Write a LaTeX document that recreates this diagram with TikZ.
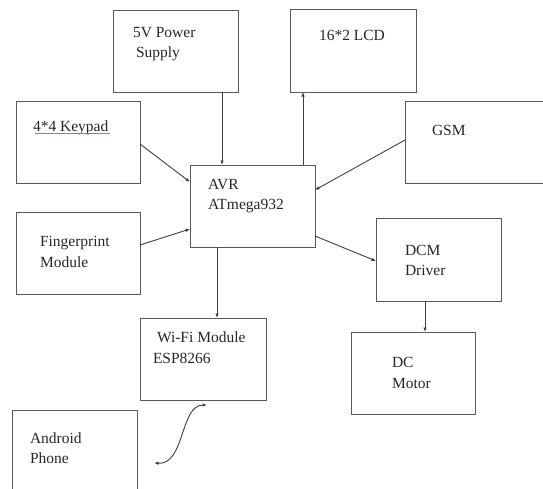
\documentclass[tikz,border=0pt]{standalone}
\usepackage{fontspec}
\setmainfont{Liberation Serif}
\usetikzlibrary{arrows.meta,calc}
\begin{document}
\begin{tikzpicture}[x=1pt,y=-1pt,
  blk/.style={draw=black!65,line width=1pt,inner sep=0pt,outer sep=0pt,anchor=north west},
  lbl/.style={anchor=base west,inner sep=0pt,outer sep=0pt,text=black!85,font=\rmfamily\fontsize{15.5}{18}\selectfont},
  arr/.style={draw=black!75,line width=0.9pt,-{Latex[length=4.5pt,width=3.5pt]}},
  warr/.style={draw=black!75,line width=0.9pt,{Latex[length=4.5pt,width=3.5pt]}-{Latex[length=4.5pt,width=3.5pt]}}]
\useasboundingbox[fill=white] (0,0) rectangle (543,488);
% boxes
\node[blk,minimum width=125pt,minimum height=82pt] (pw) at (113,10) {};
\node[blk,minimum width=126pt,minimum height=83pt] (lcd) at (290,9) {};
\node[blk,minimum width=124pt,minimum height=82pt] (kp) at (16,101) {};
\node[blk,minimum width=150pt,minimum height=82pt] (gsm) at (405,101) {};
\node[blk,minimum width=125pt,minimum height=82pt] (avr) at (190,165) {};
\node[blk,minimum width=124pt,minimum height=82pt] (fp) at (16,212) {};
\node[blk,minimum width=125pt,minimum height=83pt] (dcm) at (376,218) {};
\node[blk,minimum width=126pt,minimum height=82pt] (wifi) at (140,318) {};
\node[blk,minimum width=124pt,minimum height=82pt] (mot) at (351,332) {};
\node[blk,minimum width=125pt,minimum height=90pt] (and) at (12,410) {};
% labels
\node[lbl] (t1a) at (133,37) {5V Power};
\node[lbl] (t1b) at (136,57) {Supply};
\node[lbl] (t2) at (319,40) {16*2 LCD};
\node[lbl] (t3) at (33,131) {4*4 Keypad};
\draw[green!55!black!70,line width=0.6pt] ($(t3.base west)+(2,2.5)$) -- ($(t3.base east)+(2,2.5)$);
\node[lbl] (t4) at (432,135) {GSM};
\node[lbl] (t5a) at (208,189) {AVR};
\node[lbl] (t5b) at (208,209) {ATmega932};
\node[lbl] (t6a) at (40,246) {Fingerprint};
\node[lbl] (t6b) at (40,267) {Module};
\node[lbl] (t7a) at (405,255) {DCM};
\node[lbl] (t7b) at (405,275) {Driver};
\node[lbl] (t8a) at (157,342) {Wi-Fi Module};
\node[lbl] (t8b) at (153,363) {ESP8266};
\node[lbl] (t9a) at (392,367) {DC};
\node[lbl] (t9b) at (392,388) {Motor};
\node[lbl] (t10a) at (30,443) {Android};
\node[lbl] (t10b) at (30,463) {Phone};
% connectors
\draw[arr] ($(pw.south west)+(109,0)$) -- ($(avr.north west)+(32,0)$);
\draw[arr] ($(avr.north west)+(113,0)$) -- ($(lcd.south west)+(13,0)$);
\draw[arr] ($(kp.north east)+(0,43)$) -- ($(avr.north west)+(0,17)$);
\draw[arr] ($(gsm.north west)+(0,39)$) -- ($(avr.north east)+(0,25)$);
\draw[arr] ($(fp.north east)+(0,33)$) -- ($(avr.north west)+(0,64)$);
\draw[arr] ($(avr.north east)+(0,71)$) -- ($(dcm.north west)+(0,43)$);
\draw[arr] ($(avr.south west)+(27,0)$) -- ($(wifi.north west)+(77,0)$);
\draw[arr] ($(dcm.south west)+(49,0)$) -- ($(mot.north west)+(74,0)$);
\coordinate (w1) at ($(wifi.south west)+(67,5)$);
\coordinate (a1) at ($(and.north east)+(17,53)$);
\draw[warr] (w1) .. controls ($(w1)+(-27,0)$) and ($(a1)+(31,2)$) .. (a1);
\end{tikzpicture}
\end{document}
